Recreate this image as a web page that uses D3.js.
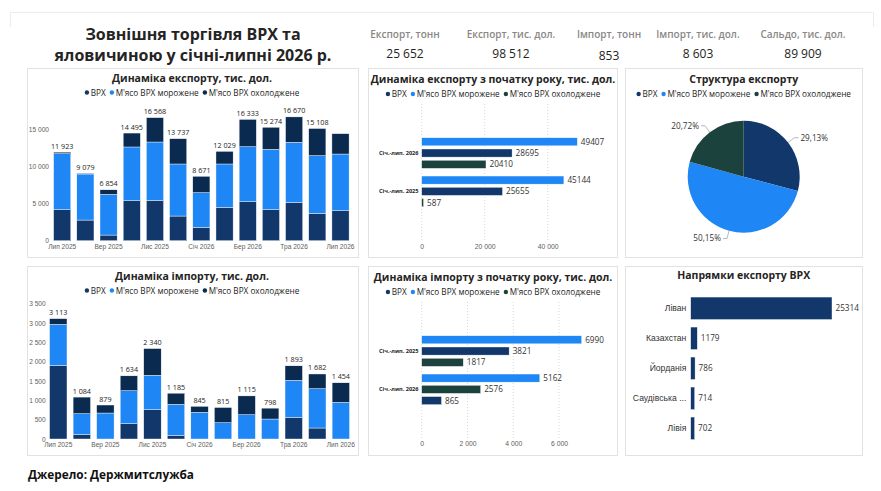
<!DOCTYPE html>
<html>
<head>
<meta charset="utf-8">
<script src="https://cdn.jsdelivr.net/npm/d3@7"></script>
<style>
  body { margin: 0; background: #fff; }
  svg { display: block; font-family: "Open Sans", "Noto Sans", sans-serif; }
</style>
</head>
<body>
<script>
// ---- data ----
var months = ["Лип 2025", "Сер 2025", "Вер 2025", "Жов 2025", "Лис 2025", "Гру 2025",
              "Січ 2026", "Лют 2026", "Бер 2026", "Кві 2026", "Тра 2026", "Чер 2026", "Лип 2026"];
var seriesNames = ["ВРХ", "М'ясо ВРХ морожене", "М'ясо ВРХ охолоджене"];

var exportCattle  = [4180, 2780, 760, 5390, 5430, 3320, 1800, 4490, 5250, 4180, 5160, 3680, 4040];
var exportFrozen  = [7540, 6200, 5480, 7230, 7860, 7010, 4670, 5840, 7410, 8120, 8090, 7770, 7630];
var exportChilled = [203, 99, 614, 1875, 3278, 3407, 2201, 1699, 3673, 2974, 3420, 3658, 2740];
var exportTotals  = [11923, 9079, 6854, 14495, 16568, 13737, 8671, 12029, 16333, 15274, 16670, 15108, null];

var importCattle  = [1905, 121, 0, 397, 759, 95, 0, 0, 0, 0, 560, 284, 0];
var importFrozen  = [1061, 534, 672, 853, 888, 802, 690, 422, 629, 517, 957, 1018, 948];
var importChilled = [147, 429, 207, 384, 693, 288, 155, 393, 486, 281, 376, 380, 506];
var importTotals  = [3113, 1084, 879, 1634, 2340, 1185, 845, 815, 1115, 798, 1893, 1682, 1454];

var exportYtdGroups  = ["Січ.-лип. 2026", "Січ.-лип. 2025"];
var exportYtdCattle  = [28695, 25655];
var exportYtdFrozen  = [49407, 45144];
var exportYtdChilled = [20410, 587];

var importYtdGroups  = ["Січ.-лип. 2025", "Січ.-лип. 2026"];
var importYtdCattle  = [3821, 865];
var importYtdFrozen  = [6990, 5162];
var importYtdChilled = [1817, 2576];

var pieValues = [28695, 49407, 20410];

var countries = ["Ліван", "Казахстан", "Йорданія", "Саудівська ...", "Лівія"];
var countryValues = [25314, 1179, 786, 714, 702];

var kpiLabels = ["Експорт, тонн", "Експорт, тис. дол.", "Імпорт, тонн", "Імпорт, тис. дол.", "Сальдо, тис. дол."];
var kpiValues = [25652, 98512, 853, 8603, 89909];

// ---- look ----
var C = {
    cattle: "#12386b",
    frozen: "#1f86f5",
    chilledDark: "#0b2a4f",
    chilledTeal: "#1c423d",
    text: "#252423",
    sub: "#605e5c",
    border: "#e2e2e2"
};

var loc = d3.formatLocale({ decimal: ",", thousands: "\u00a0", grouping: [3], currency: ["", ""] });
var fmtThousands = loc.format(",d");
var fmtPct = loc.format(".2%");

var svg = d3.select("body").append("svg")
    .attr("width", 881)
    .attr("height", 491);

/*** helpers ***/
function panel(x, y, w, h) {
    var g = svg.append("g").attr("transform", "translate(" + x + "," + y + ")");
    g.append("rect")
        .attr("x", 0.5).attr("y", 0.5)
        .attr("width", w).attr("height", h)
        .attr("fill", "#fff")
        .attr("stroke", C.border);
    return g;
}

function title(g, cx, y, text, size) {
    g.append("text")
        .attr("x", cx).attr("y", y)
        .attr("text-anchor", "middle")
        .attr("font-size", size || 10.5)
        .attr("font-weight", 700)
        .attr("fill", C.text)
        .text(text);
}

function legend(g, cx, cy, colors) {
    var lg = g.append("g");
    var x = 0;
    seriesNames.forEach(function (name, i) {
        lg.append("circle").attr("cx", x + 2.2).attr("cy", cy).attr("r", 2.2).attr("fill", colors[i]);
        var t = lg.append("text")
            .attr("x", x + 6).attr("y", cy + 3)
            .attr("font-size", 8.2)
            .attr("fill", C.text)
            .text(name);
        x += 6 + t.node().getComputedTextLength() + 4;
    });
    lg.attr("transform", "translate(" + (cx - (x - 4) / 2) + ",0)");
}

/*** header ***/
svg.append("path")
    .attr("d", "M10.5,27 V12.5 H873.5 V27")
    .attr("fill", "none")
    .attr("stroke", "#ececec");

title(svg, 193, 39.5, "Зовнішня торгівля ВРХ та", 16);
title(svg, 193, 61, "яловичиною у січні-липні 2026 р.", 16);

var kpiX = [405, 511, 609, 698, 803];
kpiLabels.forEach(function (lab, i) {
    svg.append("text")
        .attr("x", kpiX[i]).attr("y", 38)
        .attr("text-anchor", "middle")
        .attr("font-size", 10)
        .attr("font-weight", 600)
        .attr("fill", "#8a8886")
        .text(lab);
    svg.append("text")
        .attr("x", kpiX[i]).attr("y", i === 2 ? 60 : 58)
        .attr("text-anchor", "middle")
        .attr("font-size", 12)
        .attr("font-weight", 500)
        .attr("fill", C.text)
        .text(fmtThousands(kpiValues[i]));
});

svg.append("text")
    .attr("x", 28).attr("y", 479)
    .attr("font-size", 11.8)
    .attr("font-weight", 700)
    .attr("fill", "#111")
    .text("Джерело: Держмитслужба");

/*** monthly stacked columns ***/
function drawMonthly(g, cfg) {
    title(g, 165, 14, cfg.title);
    legend(g, 165, 24.5, [C.cattle, C.frozen, C.chilledDark]);

    var rows = months.map(function (m, i) {
        return { month: m, s0: cfg.s[0][i], s1: cfg.s[1][i], s2: cfg.s[2][i] };
    });
    var stack = d3.stack().keys(["s0", "s1", "s2"])(rows);

    var x = d3.scaleBand()
        .domain(months)
        .range(cfg.xRange)
        .paddingInner(0.26)
        .paddingOuter(0.13);
    var y = d3.scaleLinear()
        .domain([0, cfg.yRef])
        .range([cfg.y0, cfg.yRefPx]);

    var colors = [C.cattle, C.frozen, C.chilledDark];

    g.selectAll("g.series")
        .data(stack)
        .enter()
        .append("g")
        .attr("fill", function (d, i) { return colors[i]; })
        .selectAll("rect")
        .data(function (d) { return d; })
        .enter()
        .append("rect")
        .attr("x", function (d) { return x(d.data.month); })
        .attr("width", x.bandwidth())
        .attr("y", function (d) { return y(d[1]); })
        .attr("height", function (d) { return Math.max(0, y(d[0]) - y(d[1])); })
        .attr("stroke", "#fff")
        .attr("stroke-width", 0.4);

    // totals
    g.selectAll("text.total")
        .data(rows)
        .enter()
        .append("text")
        .attr("class", "total")
        .attr("x", function (d) { return x(d.month) + x.bandwidth() / 2; })
        .attr("y", function (d) { return y(d.s0 + d.s1 + d.s2) - 3.5; })
        .attr("text-anchor", "middle")
        .attr("font-size", 7.2)
        .attr("fill", C.text)
        .text(function (d, i) { return cfg.totals[i] == null ? "" : fmtThousands(cfg.totals[i]); });

    // y axis
    var yAxis = d3.axisLeft(y).tickValues(cfg.yTicks).tickSize(0).tickPadding(0)
        .tickFormat(fmtThousands);
    var ya = g.append("g").attr("transform", "translate(" + cfg.yLabelX + ",0)").call(yAxis);
    ya.select(".domain").remove();
    ya.selectAll("text").attr("font-size", 6.6).attr("fill", C.sub).attr("font-family", null);

    // x axis, every other month
    var xAxis = d3.axisBottom(x).tickSize(0).tickPadding(0)
        .tickValues(months.filter(function (m, i) { return i % 2 === 0; }));
    var xa = g.append("g").attr("transform", "translate(0," + cfg.xLabelY + ")").call(xAxis);
    xa.select(".domain").remove();
    xa.selectAll("text").attr("font-size", 6.6).attr("fill", C.sub).attr("font-family", null);
}

var pExp = panel(27, 68, 331, 189);
drawMonthly(pExp, {
    title: "Динаміка експорту, тис. дол.",
    s: [exportCattle, exportFrozen, exportChilled],
    totals: exportTotals,
    xRange: [23.6, 325.1],
    y0: 172.7, yRef: 15000, yRefPx: 61.3,
    yTicks: [0, 5000, 10000, 15000],
    yLabelX: 22,
    xLabelY: 176.5
});

var pImp = panel(27, 266, 331, 189);
drawMonthly(pImp, {
    title: "Динаміка імпорту, тис. дол.",
    s: [importCattle, importFrozen, importChilled],
    totals: importTotals,
    xRange: [19.5, 325.6],
    y0: 173, yRef: 3500, yRefPx: 37.7,
    yTicks: [0, 500, 1000, 1500, 2000, 2500, 3000, 3500],
    yLabelX: 18.7,
    xLabelY: 176.5
});

/*** year-to-date clustered bars ***/
function drawYtd(g, cfg) {
    title(g, 125, 14.5, cfg.title);
    legend(g, 125, 26, [C.cattle, C.frozen, C.chilledTeal]);

    var colors = [C.cattle, C.frozen, C.chilledTeal];
    var groups = cfg.groups.map(function (name, gi) {
        var bars = cfg.s.map(function (arr, si) {
            return { series: si, value: arr[gi] };
        });
        bars.sort(function (a, b) { return b.value - a.value; });
        return { name: name, bars: bars };
    });

    var x = d3.scaleLinear().domain([0, cfg.xRef]).range([53.7, cfg.xRefPx]);
    var y = d3.scaleBand().domain(cfg.groups).range([65.9, 142.5])
        .paddingInner(0.2).paddingOuter(0.1);
    var yi = d3.scaleBand().domain([0, 1, 2]).range([0, y.bandwidth()])
        .paddingInner(0.28).paddingOuter(0);

    // dotted grid
    g.selectAll("line.grid")
        .data(cfg.ticks)
        .enter()
        .append("line")
        .attr("x1", function (d) { return x(d); })
        .attr("x2", function (d) { return x(d); })
        .attr("y1", 36).attr("y2", 172)
        .attr("stroke", "#d9d9d9")
        .attr("stroke-dasharray", "1,2");

    var gg = g.selectAll("g.grp")
        .data(groups)
        .enter()
        .append("g")
        .attr("transform", function (d) { return "translate(0," + y(d.name) + ")"; });

    gg.selectAll("rect")
        .data(function (d) { return d.bars; })
        .enter()
        .append("rect")
        .attr("x", x(0))
        .attr("y", function (d, i) { return yi(i); })
        .attr("width", function (d) { return x(d.value) - x(0); })
        .attr("height", yi.bandwidth())
        .attr("fill", function (d) { return colors[d.series]; })
        .attr("stroke", "#fff")
        .attr("stroke-width", 0.4);

    gg.selectAll("text.val")
        .data(function (d) { return d.bars; })
        .enter()
        .append("text")
        .attr("class", "val")
        .attr("x", function (d) { return x(d.value) + 3.5; })
        .attr("y", function (d, i) { return yi(i) + yi.bandwidth() / 2 + 3; })
        .attr("font-size", 8.2)
        .attr("fill", "#333")
        .text(function (d) { return d.value; });

    gg.append("text")
        .attr("x", 50.5)
        .attr("y", y.bandwidth() / 2 + 2)
        .attr("text-anchor", "end")
        .attr("font-size", 5.6)
        .attr("font-weight", 700)
        .attr("fill", C.text)
        .text(function (d) { return d.name; });

    var xAxis = d3.axisBottom(x).tickValues(cfg.ticks).tickSize(0).tickPadding(0)
        .tickFormat(fmtThousands);
    var xa = g.append("g").attr("transform", "translate(0," + cfg.xLabelY + ")").call(xAxis);
    xa.select(".domain").remove();
    xa.selectAll("text").attr("font-size", 6.8).attr("fill", C.sub).attr("font-family", null);
}

var pExpYtd = panel(368, 68, 249, 189);
drawYtd(pExpYtd, {
    title: "Динаміка експорту з початку року, тис. дол.",
    groups: exportYtdGroups,
    s: [exportYtdCattle, exportYtdFrozen, exportYtdChilled],
    xRef: 40000, xRefPx: 179.7,
    ticks: [0, 20000, 40000],
    xLabelY: 176
});

var pImpYtd = panel(368, 266, 249, 189);
drawYtd(pImpYtd, {
    title: "Динаміка імпорту з початку року, тис. дол.",
    groups: importYtdGroups,
    s: [importYtdCattle, importYtdFrozen, importYtdChilled],
    xRef: 6000, xRefPx: 191,
    ticks: [0, 2000, 4000, 6000],
    xLabelY: 175
});

/*** pie ***/
var pPie = panel(625, 68, 237, 189);
title(pPie, 118.7, 14.5, "Структура експорту");
legend(pPie, 118.7, 26, [C.cattle, C.frozen, C.chilledTeal]);

var pieColors = [C.cattle, C.frozen, C.chilledTeal];
var total = d3.sum(pieValues);
var pie = d3.pie().sort(null).value(function (d) { return d; });
var arcs = pie(pieValues);
var R = 56;
var arc = d3.arc().innerRadius(0).outerRadius(R);
var pg = pPie.append("g").attr("transform", "translate(118.7,108.7)");

pg.selectAll("path.slice")
    .data(arcs)
    .enter()
    .append("path")
    .attr("class", "slice")
    .attr("d", arc)
    .attr("fill", function (d, i) { return pieColors[i]; });

arcs.forEach(function (d) {
    var a = (d.startAngle + d.endAngle) / 2;
    var p1 = [R * Math.sin(a), -R * Math.cos(a)];
    var p2 = [(R + 8) * Math.sin(a), -(R + 8) * Math.cos(a)];
    var right = Math.sin(a) >= 0;
    var p3 = [p2[0] + (right ? 4 : -4), p2[1]];
    pg.append("polyline")
        .attr("points", [p1, p2, p3].map(function (p) { return p.join(","); }).join(" "))
        .attr("fill", "none")
        .attr("stroke", "#9a9a9a")
        .attr("stroke-width", 0.7);
    pg.append("text")
        .attr("x", p3[0] + (right ? 2 : -2))
        .attr("y", p3[1] + 3)
        .attr("text-anchor", right ? "start" : "end")
        .attr("font-size", 8.2)
        .attr("fill", "#333")
        .text(fmtPct(d.value / total));
});

/*** export directions ***/
var pDir = panel(625, 266, 237, 189);
title(pDir, 118.7, 13, "Напрямки експорту ВРХ");

var xd = d3.scaleLinear().domain([0, 25314]).range([65.7, 207]);
var yd = d3.scaleBand().domain(countries).range([27.3, 177.3])
    .paddingInner(0.25).paddingOuter(0.125);

var rowsDir = countries.map(function (c, i) { return { name: c, value: countryValues[i] }; });

pDir.selectAll("rect.dir")
    .data(rowsDir)
    .enter()
    .append("rect")
    .attr("class", "dir")
    .attr("x", xd(0))
    .attr("y", function (d) { return yd(d.name); })
    .attr("width", function (d) { return xd(d.value) - xd(0); })
    .attr("height", yd.bandwidth())
    .attr("fill", C.cattle)
    .attr("stroke", "#fff")
    .attr("stroke-width", 0.4);

pDir.selectAll("text.dirv")
    .data(rowsDir)
    .enter()
    .append("text")
    .attr("class", "dirv")
    .attr("x", function (d) { return xd(d.value) + 3.5; })
    .attr("y", function (d) { return yd(d.name) + yd.bandwidth() / 2 + 3; })
    .attr("font-size", 8.2)
    .attr("fill", "#333")
    .text(function (d) { return d.value; });

var yAxisDir = d3.axisLeft(yd).tickSize(0).tickPadding(0);
var yad = pDir.append("g").attr("transform", "translate(61.3,0)").call(yAxisDir);
yad.select(".domain").remove();
yad.selectAll("text").attr("font-size", 8.6).attr("fill", "#333").attr("font-family", null);
</script>
</body>
</html>
